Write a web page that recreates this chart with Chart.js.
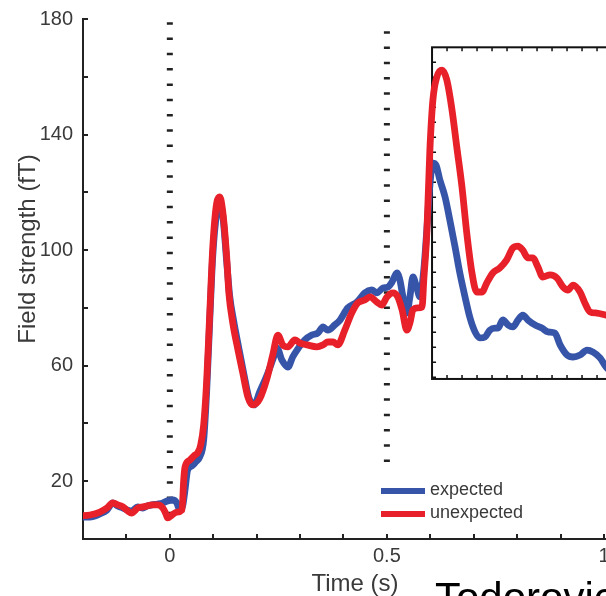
<!DOCTYPE html>
<html>
<head>
<meta charset="utf-8">
<script src="https://cdn.jsdelivr.net/npm/chart.js@4.4.1/dist/chart.umd.min.js"></script>
<style>
  html, body { margin: 0; padding: 0; background: #fff; overflow: hidden; }
  #wrap { position: relative; width: 606px; height: 596px; overflow: hidden; }
  #chart { position: absolute; left: 0; top: 0; }
  #src {
    position: absolute; left: 435px; top: 577px;
    font: 42px/42px 'Liberation Sans', Arial, sans-serif; color: #000;
    white-space: nowrap;
  }
</style>
</head>
<body>
<div id="wrap">
  <canvas id="chart" width="660" height="596"></canvas>
  <div id="src">Todorovic</div>
</div>
<script>
// Series names and tick labels
const seriesNames = ['expected', 'unexpected'];
const xTickLabels = [0, 0.5, 1];
const yTickLabels = [20, 60, 100, 140, 180];

// Stimulus markers (dotted lines): time, top and bottom of the dotted run
const stimTimes = [0, 0.5];
const stimTop = [178.9, 175.8];
const stimBottom = [5.5, 23.2];

// Inset frame, in data units
const insetTime = [0.604, 1.06];
const insetField = [55.4, 170.2];

// expected (blue)
const timeExpected = [-0.207,-0.184,-0.161,-0.145,-0.131,-0.120,-0.108,-0.097,-0.088,-0.074,-0.062,-0.053,-0.041,-0.028,-0.016,-0.005,
  0.007,0.016,0.023,0.030,0.035,0.041,0.051,0.060,0.069,0.078,0.085,0.092,0.099,0.108,0.115,0.122,0.131,0.138,0.147,0.159,0.170,0.182,
  0.194,0.207,0.224,0.237,0.247,0.258,0.272,0.283,0.293,0.311,0.327,0.341,0.353,0.364,0.380,0.392,0.410,0.431,0.449,0.465,0.477,0.491,
  0.502,0.512,0.523,0.530,0.537,0.546,0.553,0.560,0.569,0.576,0.585,0.592,0.599,0.606,0.613,0.622,0.634,0.645,0.657,0.668,0.680,0.691,
  0.703,0.714,0.726,0.737,0.749,0.756,0.767,0.779,0.790,0.802,0.813,0.825,0.841,0.857,0.871,0.887,0.899,0.915,0.929,0.945,0.961,0.975,
  0.991,1.005,1.018];
const fieldExpected = [7.6,7.6,8.7,10.0,12.5,11.4,10.7,10.0,9.7,11.1,10.7,11.4,11.8,12.1,12.5,13.2,
  13.5,12.5,10.0,11.8,17.0,23.9,25.3,26.7,28.4,34.3,51.6,75.8,98.3,112.8,115.6,112.0,96.0,84.0,75.5,66.0,57.5,49.0,
  46.4,50.9,56.8,62.0,66.1,62.0,59.5,63.0,65.4,68.9,70.6,71.3,73.4,72.3,74.1,75.8,80.0,82.0,85.2,86.2,85.2,86.9,
  87.2,89.0,92.1,89.6,83.8,78.2,83.8,90.7,86.9,83.8,93.1,107.0,122.5,130.1,129.5,124.3,118.4,110.4,101.1,92.1,83.8,76.8,
  71.7,69.6,69.9,72.3,73.0,73.0,75.8,74.1,73.4,75.8,77.5,75.8,74.1,73.0,71.7,71.3,67.2,63.7,63.0,63.7,65.4,64.7,
  62.7,59.5,57.8];

// unexpected (red)
const timeUnexpected = [-0.207,-0.184,-0.161,-0.145,-0.131,-0.120,-0.108,-0.097,-0.088,-0.074,-0.062,-0.053,-0.041,-0.028,-0.016,-0.009,-0.005,
  0.005,0.016,0.028,0.032,0.035,0.046,0.055,0.065,0.071,0.078,0.085,0.092,0.099,0.108,0.115,0.122,0.131,0.136,0.145,0.157,0.168,0.180,
  0.191,0.207,0.224,0.237,0.249,0.260,0.272,0.288,0.300,0.316,0.339,0.353,0.364,0.376,0.387,0.403,0.419,0.433,0.449,0.461,0.477,0.488,
  0.500,0.514,0.525,0.535,0.546,0.553,0.560,0.571,0.581,0.585,0.592,0.599,0.606,0.615,0.627,0.638,0.650,0.661,0.673,0.684,0.696,0.707,
  0.719,0.730,0.744,0.760,0.776,0.790,0.802,0.813,0.825,0.836,0.848,0.859,0.876,0.892,0.906,0.917,0.929,0.945,0.956,0.968,0.984,
  1.005,1.018];
const fieldUnexpected = [8.0,8.3,9.3,10.7,12.5,11.8,11.1,9.7,9.0,10.7,11.1,11.4,11.8,11.8,10.7,8.7,7.3,
  8.3,9.3,10.0,20.4,24.9,27.3,28.7,30.1,32.5,39.5,55.0,78.2,101.1,116.3,118.4,113.2,97.6,85.2,74.8,65.4,57.5,49.1,
  46.4,48.5,55.7,63.7,70.6,67.2,66.5,68.9,67.8,67.2,66.5,67.2,68.2,68.2,67.2,72.3,78.2,81.7,82.7,83.8,82.0,81.0,
  83.8,85.2,83.8,79.3,72.3,74.8,79.3,80.0,80.3,89.6,105.9,134.6,152.0,159.9,162.3,158.9,148.5,135.7,121.8,105.9,92.1,85.5,
  85.5,88.6,92.1,93.8,96.6,100.7,101.4,100.0,97.3,97.3,94.1,90.7,91.4,90.3,87.2,86.2,87.9,85.5,81.7,78.6,78.2,
  77.5,77.2];

const colors = ['#3755a8', '#e8202a'];
const textColor = '#3a3a3a';
const axisColor = '#222';

const toPoints = (xs, ys) => xs.map((x, i) => ({ x, y: ys[i] }));

/* --------- plugins --------- */
const insetFrame = {
  id: 'insetFrame',
  beforeDatasetsDraw(chart){
    const { ctx, scales: { x, y } } = chart;
    const l = x.getPixelForValue(insetTime[0]), r = x.getPixelForValue(insetTime[1]);
    const t = y.getPixelForValue(insetField[1]), b = y.getPixelForValue(insetField[0]);
    ctx.save();
    ctx.strokeStyle = '#111';
    ctx.lineWidth = 2;
    ctx.strokeRect(l, t, r - l, b - t);
    ctx.lineWidth = 1.5;
    ctx.beginPath();
    for(let px = l + 15; px < r; px += 15){
      ctx.moveTo(px, t); ctx.lineTo(px, t + 4);
      ctx.moveTo(px, b); ctx.lineTo(px, b - 4);
    }
    for(let py = t + 15; py < b; py += 15){
      ctx.moveTo(l, py); ctx.lineTo(l + 4, py);
    }
    ctx.stroke();
    ctx.restore();
  }
};

const cornerLegend = {
  id: 'cornerLegend',
  afterDatasetsDraw(chart, args, opts){
    const { ctx } = chart;
    const items = chart.data.datasets.filter(d => d.inLegend);
    ctx.save();
    ctx.font = opts.font;
    ctx.textBaseline = 'middle';
    ctx.textAlign = 'left';
    items.forEach((d, i) => {
      const y = opts.y + i * opts.rowGap;
      ctx.strokeStyle = d.borderColor;
      ctx.lineWidth = 6;
      ctx.lineCap = 'butt';
      ctx.beginPath();
      ctx.moveTo(opts.x, y);
      ctx.lineTo(opts.x + opts.lineLen, y);
      ctx.stroke();
      ctx.fillStyle = textColor;
      ctx.fillText(d.label, opts.x + opts.lineLen + 5, y - 1);
    });
    ctx.restore();
  }
};

const axisTitles = {
  id: 'axisTitles',
  afterDraw(chart, args, opts){
    const { ctx } = chart;
    ctx.save();
    ctx.font = opts.font;
    ctx.fillStyle = textColor;
    ctx.textAlign = 'center';
    ctx.textBaseline = 'middle';
    ctx.fillText(opts.xText, opts.xPos[0], opts.xPos[1]);
    ctx.translate(opts.yPos[0], opts.yPos[1]);
    ctx.rotate(-Math.PI / 2);
    ctx.fillText(opts.yText, 0, 0);
    ctx.restore();
  }
};

/* --------- datasets --------- */
const stimSets = stimTimes.map((t, i) => ({
  label: 'stim' + i,
  data: [{ x: t, y: stimTop[i] }, { x: t, y: stimBottom[i] }],
  borderColor: axisColor,
  borderWidth: 6,
  borderDash: [2.5, 12.8],
  borderCapStyle: 'butt',
  pointRadius: 0,
  pointHoverRadius: 0,
  order: 3
}));

const lineSet = (label, pts, color, order) => ({
  label,
  data: pts,
  inLegend: true,
  borderColor: color,
  borderWidth: 6.8,
  borderJoinStyle: 'round',
  borderCapStyle: 'round',
  cubicInterpolationMode: 'monotone',
  pointRadius: 0,
  pointHoverRadius: 0,
  order
});

const tickFont = { family: "'Liberation Sans', Arial, sans-serif", size: 20 };

new Chart(document.getElementById('chart').getContext('2d'), {
  type: 'line',
  data: {
    datasets: [
      ...stimSets,
      lineSet(seriesNames[0], toPoints(timeExpected, fieldExpected), colors[0], 2),
      lineSet(seriesNames[1], toPoints(timeUnexpected, fieldUnexpected), colors[1], 1)
    ]
  },
  options: {
    responsive: false,
    animation: false,
    layout: { autoPadding: false, padding: { left: 0, top: 19, right: 30, bottom: 0 } },
    plugins: {
      legend: { display: false },
      tooltip: { enabled: false },
      cornerLegend: { x: 381, y: 491, rowGap: 23, lineLen: 44, font: "18px 'Liberation Sans', Arial, sans-serif" },
      axisTitles: {
        font: "24px 'Liberation Sans', Arial, sans-serif",
        xText: 'Time (s)', xPos: [355, 584],
        yText: 'Field strength (fT)', yPos: [28, 249]
      }
    },
    scales: {
      x: {
        type: 'linear',
        min: -0.2,
        max: 1.06,
        afterFit: s => { s.height = 57; s.paddingLeft = 0; s.paddingRight = 0; },
        border: { display: true, color: axisColor, width: 2 },
        grid: { drawOnChartArea: false, drawTicks: true, tickLength: -5, color: axisColor, lineWidth: 2 },
        ticks: {
          stepSize: 0.1,
          includeBounds: false,
          maxRotation: 0,
          autoSkip: false,
          padding: 10,
          color: textColor,
          font: tickFont,
          callback: v => xTickLabels.find(t => Math.abs(t - v) < 1e-6) !== undefined ? String(Math.round(v * 10) / 10) : ''
        }
      },
      y: {
        min: 0,
        max: 180,
        // label padding would otherwise push the plot top down
        afterFit: s => { s.width = 83; s.paddingTop = 0; s.paddingBottom = 0; },
        border: { display: true, color: axisColor, width: 2 },
        grid: { drawOnChartArea: false, drawTicks: true, tickLength: -5, color: axisColor, lineWidth: 2 },
        ticks: {
          stepSize: 20,
          autoSkip: false,
          padding: 15,
          color: textColor,
          font: tickFont,
          callback: v => yTickLabels.includes(v) ? String(v) : ''
        }
      }
    }
  },
  plugins: [insetFrame, cornerLegend, axisTitles]
});
</script>
</body>
</html>
